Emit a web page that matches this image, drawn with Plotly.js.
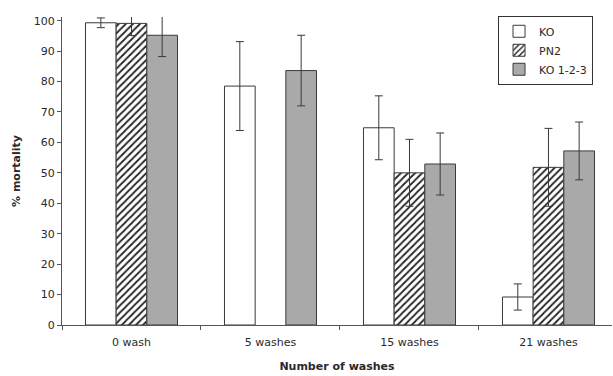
<!DOCTYPE html>
<html><head><meta charset="utf-8">
<script src="https://cdn.plot.ly/plotly-3.0.1.min.js"></script>
<style>body{margin:0;background:#fff}#chart{width:613px;height:376px}</style>
</head><body><div id="chart"></div>
<script>
const categories = ["0 wash", "5 washes", "15 washes", "21 washes"];
const seriesNames = ["KO", "PN2", "KO 1-2-3"];
const koValues = [99.3, 78.5, 64.8, 9.2];
const koErrors = [1.6, 14.6, 10.5, 4.3];
const pn2Values = [99.1, null, 50.0, 51.8];
const pn2Errors = [4.0, null, 11.0, 12.8];
const ko123Values = [95.2, 83.6, 52.9, 57.2];
const ko123Errors = [7.0, 11.6, 10.2, 9.5];
const yTicks = [0, 10, 20, 30, 40, 50, 60, 70, 80, 90, 100];

const lineCol = '#3a3a3a';
function err(arr){ return {type:'data', array:arr, visible:true, color:lineCol, thickness:1, width:4}; }

const traces = [
  {type:'bar', name:seriesNames[0], x:categories, y:koValues, error_y:err(koErrors),
   marker:{color:'#ffffff', line:{color:lineCol, width:1}}},
  {type:'bar', name:seriesNames[1], x:categories, y:pn2Values, error_y:err(pn2Errors),
   marker:{color:'#ffffff', line:{color:lineCol, width:1},
     pattern:{shape:'/', fgcolor:'#222222', bgcolor:'#ffffff', size:5, solidity:0.35}}},
  {type:'bar', name:seriesNames[2], x:categories, y:ko123Values, error_y:err(ko123Errors),
   marker:{color:'#a9a9a9', line:{color:lineCol, width:1}}}
];

const layout = {
  width:613, height:376,
  margin:{l:62, r:1, t:17, b:51},
  paper_bgcolor:'#fff', plot_bgcolor:'#fff',
  font:{family:'DejaVu Sans, Liberation Sans, sans-serif', size:11, color:'#2a2a2a'},
  barmode:'group', bargap:0.338, bargroupgap:0,
  showlegend:true,
  legend:{x:0.9655, y:1.004, xanchor:'right', yanchor:'top', bordercolor:'#333', borderwidth:1,
    bgcolor:'#fff', font:{size:11, color:'#2a2a2a'}, itemwidth:30, tracegroupgap:3},
  xaxis:{type:'category', range:[-0.5, 3.457], showline:true, linecolor:'#555', linewidth:1,
    ticks:'outside', tickson:'boundaries', ticklen:4, tickcolor:'#555', showgrid:false, zeroline:false,
    tickfont:{size:11, color:'#2a2a2a'}, ticklabelstandoff:7, automargin:false,
    title:{text:'<b>Number of washes</b>', font:{size:11, color:'#2a2a2a'}, standoff:14}},
  yaxis:{range:[0, 101.2], tickvals:yTicks, showline:true, linecolor:'#555', linewidth:1,
    ticks:'outside', ticklen:4, tickcolor:'#555', showgrid:false, zeroline:false,
    tickfont:{size:11, color:'#2a2a2a'}, automargin:false,
    title:{text:'<b>% mortality</b>', font:{size:11, color:'#2a2a2a'}, standoff:10}}
};
Plotly.newPlot('chart', traces, layout, {displayModeBar:false, staticPlot:true});
</script></body></html>
